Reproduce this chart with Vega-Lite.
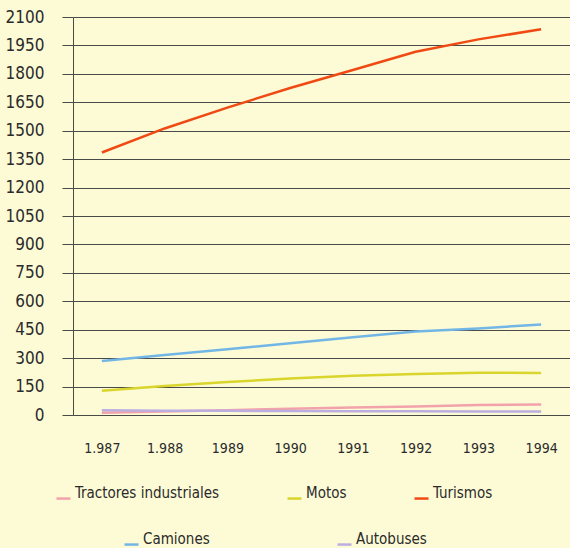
{
  "$schema": "https://vega.github.io/schema/vega-lite/v6.json",
  "width": 497,
  "height": 398,
  "autosize": {"type": "none"},
  "padding": {"left": 73, "top": 17, "right": 0, "bottom": 133},
  "background": "#fdfbd6",
  "config": {
    "view": {"stroke": null},
    "font": "DejaVu Sans Condensed, Liberation Sans Narrow, sans-serif",
    "axis": {"labelFont": "DejaVu Sans Condensed, Liberation Sans Narrow, sans-serif", "labelColor": "#2a2a2a"},
    "legend": {"labelFont": "DejaVu Sans Condensed, Liberation Sans Narrow, sans-serif", "labelColor": "#2a2a2a", "labelLimit": 0}
  },
  "data": {
    "values": [
      {"serie": "Turismos", "año": "1.987", "valor": 1385},
      {"serie": "Turismos", "año": "1.988", "valor": 1512},
      {"serie": "Turismos", "año": "1989", "valor": 1622},
      {"serie": "Turismos", "año": "1990", "valor": 1725},
      {"serie": "Turismos", "año": "1991", "valor": 1820},
      {"serie": "Turismos", "año": "1992", "valor": 1917},
      {"serie": "Turismos", "año": "1993", "valor": 1982},
      {"serie": "Turismos", "año": "1994", "valor": 2035},
      {"serie": "Camiones", "año": "1.987", "valor": 285},
      {"serie": "Camiones", "año": "1.988", "valor": 317},
      {"serie": "Camiones", "año": "1989", "valor": 347},
      {"serie": "Camiones", "año": "1990", "valor": 378},
      {"serie": "Camiones", "año": "1991", "valor": 410},
      {"serie": "Camiones", "año": "1992", "valor": 440},
      {"serie": "Camiones", "año": "1993", "valor": 457},
      {"serie": "Camiones", "año": "1994", "valor": 478},
      {"serie": "Motos", "año": "1.987", "valor": 128},
      {"serie": "Motos", "año": "1.988", "valor": 153},
      {"serie": "Motos", "año": "1989", "valor": 174},
      {"serie": "Motos", "año": "1990", "valor": 193},
      {"serie": "Motos", "año": "1991", "valor": 207},
      {"serie": "Motos", "año": "1992", "valor": 216},
      {"serie": "Motos", "año": "1993", "valor": 223},
      {"serie": "Motos", "año": "1994", "valor": 222},
      {"serie": "Tractores industriales", "año": "1.987", "valor": 12},
      {"serie": "Tractores industriales", "año": "1.988", "valor": 18},
      {"serie": "Tractores industriales", "año": "1989", "valor": 25},
      {"serie": "Tractores industriales", "año": "1990", "valor": 33},
      {"serie": "Tractores industriales", "año": "1991", "valor": 40},
      {"serie": "Tractores industriales", "año": "1992", "valor": 45},
      {"serie": "Tractores industriales", "año": "1993", "valor": 53},
      {"serie": "Tractores industriales", "año": "1994", "valor": 56},
      {"serie": "Autobuses", "año": "1.987", "valor": 25},
      {"serie": "Autobuses", "año": "1.988", "valor": 22},
      {"serie": "Autobuses", "año": "1989", "valor": 22},
      {"serie": "Autobuses", "año": "1990", "valor": 21},
      {"serie": "Autobuses", "año": "1991", "valor": 20},
      {"serie": "Autobuses", "año": "1992", "valor": 20},
      {"serie": "Autobuses", "año": "1993", "valor": 19},
      {"serie": "Autobuses", "año": "1994", "valor": 18}
    ]
  },
  "encoding": {
    "x": {
      "field": "año",
      "type": "ordinal",
      "sort": ["1.987", "1.988", "1989", "1990", "1991", "1992", "1993", "1994"],
      "scale": {"type": "point", "padding": 0.46},
      "axis": {
        "title": null,
        "domain": false,
        "ticks": false,
        "grid": false,
        "labelAngle": 0,
        "labelFontSize": 14,
        "labelPadding": 26
      }
    },
    "y": {
      "field": "valor",
      "type": "quantitative",
      "scale": {"domain": [0, 2100], "nice": false, "zero": true},
      "axis": {
        "title": null,
        "values": [0, 150, 300, 450, 600, 750, 900, 1050, 1200, 1350, 1500, 1650, 1800, 1950, 2100],
        "format": "d",
        "grid": true,
        "gridColor": "#4a4a4a",
        "gridOpacity": 1,
        "gridWidth": 1,
        "domain": true,
        "domainColor": "#4a4a4a",
        "domainWidth": 1,
        "ticks": true,
        "tickSize": 11,
        "tickColor": "#4a4a4a",
        "labelFontSize": 17,
        "labelPadding": 18
      }
    }
  },
  "layer": [
    {
      "transform": [{"filter": {"field": "serie", "oneOf": ["Tractores industriales", "Motos", "Turismos"]}}],
      "mark": {"type": "line", "strokeWidth": 2.5},
      "encoding": {
        "color": {
          "field": "serie",
          "type": "nominal",
          "scale": {"domain": ["Tractores industriales", "Motos", "Turismos"], "range": ["#f2a2ab", "#d9d52c", "#ef4a14"]},
          "legend": {
            "title": null,
            "orient": "none",
            "legendX": -18,
            "legendY": 467,
            "direction": "horizontal",
            "columnPadding": 62,
            "labelFontSize": 15,
            "labelOffset": 3,
            "symbolType": "M-1,0.8L1,0.8",
            "symbolSize": 196,
            "symbolStrokeWidth": 2.5
          }
        }
      }
    },
    {
      "transform": [{"filter": {"field": "serie", "oneOf": ["Camiones", "Autobuses"]}}],
      "mark": {"type": "line", "strokeWidth": 2.5},
      "encoding": {
        "color": {
          "field": "serie",
          "type": "nominal",
          "scale": {"domain": ["Camiones", "Autobuses"], "range": ["#72b6e6", "#bcaee0"]},
          "legend": {
            "title": null,
            "orient": "none",
            "legendX": 50,
            "legendY": 513,
            "direction": "horizontal",
            "columnPadding": 122,
            "labelFontSize": 15,
            "labelOffset": 3,
            "symbolType": "M-1,0.8L1,0.8",
            "symbolSize": 196,
            "symbolStrokeWidth": 2.5
          }
        }
      }
    }
  ],
  "resolve": {"scale": {"color": "independent"}}
}
